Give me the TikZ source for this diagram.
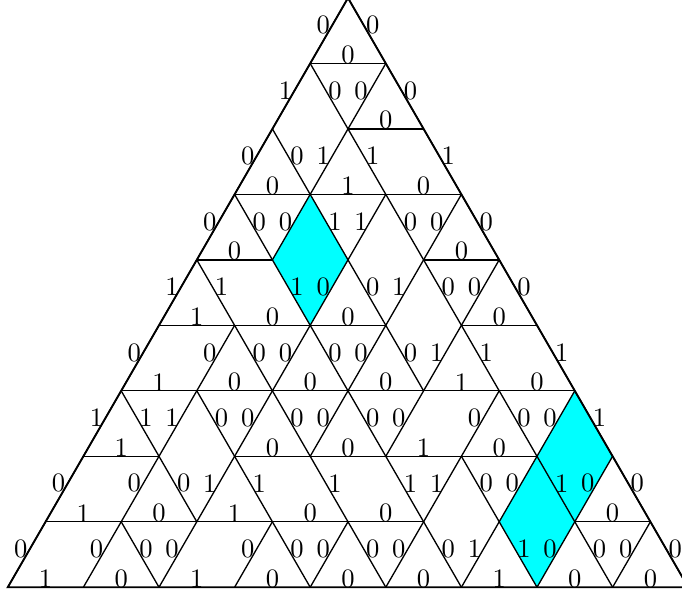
\documentclass[tikz,border=0pt]{standalone}
\usetikzlibrary{calc}
\definecolor{piececyan}{RGB}{0,255,255}
\begin{document}
\begin{tikzpicture}[
  edge/.style={draw=black, line width=0.5pt},
  frame/.style={draw=black, line width=0.7pt, line join=miter},
  piece/.style={fill=piececyan},
  hlab/.style={inner sep=0pt, yshift=3.2pt},
  llab/.style={inner sep=0pt, xshift=-2.2pt, yshift=2.1pt},
  rlab/.style={inner sep=0pt, xshift=2.2pt, yshift=2.1pt}
]
  \useasboundingbox (-4.603,-7.884) rectangle (4.418,-0.027);
  % grid points: row r, place k
  \foreach \r in {0,...,9}
    \foreach \k in {0,...,\r}
      \coordinate (v\r-\k) at ({\k-\r/2},{-0.8660254*\r});

  % 10 pieces
  \fill[piece] (v3-1) -- (v4-1) -- (v5-2) -- (v4-2) -- cycle;
  \fill[piece] (v6-6) -- (v7-6) -- (v8-7) -- (v7-7) -- cycle;
  \fill[piece] (v7-6) -- (v8-6) -- (v9-7) -- (v8-7) -- cycle;

  % horizontal edges
  \foreach \r/\k/\t [evaluate=\k as \kk using int(\k+1)] in {
      1/0/0, 2/1/0, 3/0/0, 3/1/1, 3/2/0, 4/0/0, 4/3/0,
      5/0/1, 5/1/0, 5/2/0, 5/4/0, 6/0/1, 6/1/0, 6/2/0, 6/3/0, 6/4/1, 6/5/0,
      7/0/1, 7/2/0, 7/3/0, 7/4/1, 7/5/0, 8/0/1, 8/1/0, 8/2/1, 8/3/0, 8/4/0, 8/7/0,
      9/0/1, 9/1/0, 9/2/1, 9/3/0, 9/4/0, 9/5/0, 9/6/1, 9/7/0, 9/8/0}
    \draw[edge] (v\r-\k) -- (v\r-\kk) node[midway, hlab] (h\r-\k) {\t};

  % edges going down-left
  \foreach \r/\k/\t [evaluate=\r as \rr using int(\r+1)] in {
      0/0/0, 1/0/1, 1/1/0, 2/0/0, 2/1/1, 3/0/0, 3/1/0, 3/2/1, 3/3/0,
      4/0/1, 4/2/0, 4/3/1, 4/4/0, 5/0/0, 5/1/0, 5/2/0, 5/3/0, 5/4/1,
      6/0/1, 6/1/1, 6/2/0, 6/3/0, 6/4/0, 6/5/0, 6/6/0,
      7/0/0, 7/1/0, 7/2/1, 7/5/1, 7/6/0, 7/7/0,
      8/0/0, 8/1/0, 8/2/0, 8/3/0, 8/4/0, 8/5/0, 8/6/1, 8/7/0, 8/8/0}
    \draw[edge] (v\r-\k) -- (v\rr-\k) node[midway, llab] (l\r-\k) {\t};

  % edges going down-right
  \foreach \r/\k/\t [evaluate=\r as \rr using int(\r+1),
                     evaluate=\k as \kk using int(\k+1)] in {
      0/0/0, 1/0/0, 1/1/0, 2/0/0, 2/1/1, 2/2/1, 3/0/0, 3/1/1, 3/2/0, 3/3/0,
      4/0/1, 4/1/1, 4/2/0, 4/3/0, 4/4/0, 5/1/0, 5/2/0, 5/3/0, 5/4/1, 5/5/1,
      6/0/1, 6/1/0, 6/2/0, 6/3/0, 6/5/0, 6/6/1,
      7/1/0, 7/2/1, 7/3/1, 7/4/1, 7/5/0, 7/6/1, 7/7/0,
      8/1/0, 8/3/0, 8/4/0, 8/5/0, 8/6/1, 8/7/0, 8/8/0}
    \draw[edge] (v\r-\k) -- (v\rr-\kk) node[midway, rlab] (r\r-\k) {\t};

  % outline
  \draw[frame] (v0-0) -- (v9-0) -- (v9-9) -- cycle;
\end{tikzpicture}
\end{document}
